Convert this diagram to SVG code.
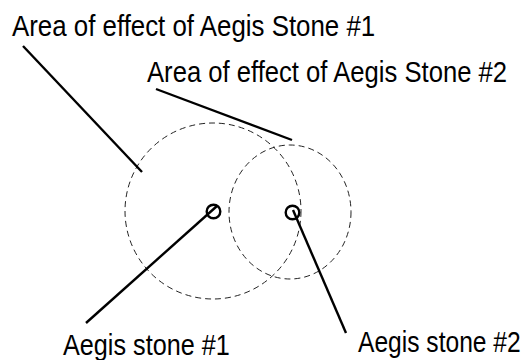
<svg xmlns="http://www.w3.org/2000/svg" width="532" height="360" viewBox="0 0 532 360">
<style>
.lbl{font-family:"Liberation Sans",Arial,sans-serif;font-size:30px;fill:#000}
.area{fill:none;stroke:#222;stroke-width:1;stroke-dasharray:6 4}
.stone{fill:none;stroke:#000;stroke-width:2.4}
.ln{stroke:#000;stroke-width:2.4;fill:none}
</style>
<rect width="532" height="360" fill="#fff"/>
<g id="area1"><circle class="area" cx="213" cy="211" r="88"/></g>
<g id="area2"><ellipse class="area" cx="290" cy="212" rx="61" ry="67"/></g>
<g id="stone1"><circle class="stone" cx="213.5" cy="211.5" r="6.8"/></g>
<g id="stone2"><circle class="stone" cx="292.5" cy="212.5" r="6.8"/></g>
<g id="connectors">
<line class="ln" x1="23" y1="46" x2="142" y2="172"/>
<line class="ln" x1="156" y1="89" x2="292" y2="140"/>
<line class="ln" x1="217" y1="206" x2="86" y2="323"/>
<line class="ln" x1="293" y1="210" x2="346" y2="333"/>
</g>
<g id="label-area1"><text class="lbl" transform="translate(12,36) scale(0.862,1)">Area of effect of Aegis Stone #1</text></g>
<g id="label-area2"><text class="lbl" transform="translate(147,82) scale(0.855,1)">Area of effect of Aegis Stone #2</text></g>
<g id="label-stone1"><text class="lbl" transform="translate(63,355) scale(0.841,1)">Aegis stone #1</text></g>
<g id="label-stone2"><text class="lbl" transform="translate(358,352) scale(0.82,1)">Aegis stone #2</text></g>
</svg>
